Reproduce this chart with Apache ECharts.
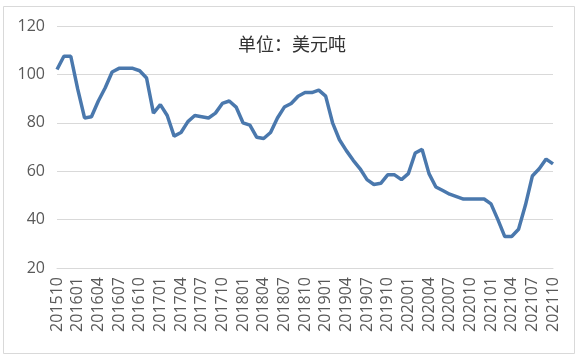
<!DOCTYPE html>
<html>
<head>
<meta charset="utf-8">
<script src="https://cdn.jsdelivr.net/npm/echarts@6/dist/echarts.min.js"></script>
<style>html,body{margin:0;padding:0;background:#fff}#c{width:579px;height:361px}</style>
</head>
<body>
<div id="c"></div>
<script>
const months = [];
for (let y = 2015, m = 10; y < 2021 || (y === 2021 && m <= 10); ) {
  months.push(String(y) + String(m).padStart(2, '0'));
  m++; if (m > 12) { m = 1; y++; }
}
const prices = [
  102, 107.5, 107.5, 94, 82, 82.5, 89, 94.5, 101, 102.5, 102.5, 102.5,
  101.5, 98.5, 84, 87.5, 83, 74.5, 76, 80.5, 83, 82.5, 82, 84,
  88, 89, 86.5, 80, 79, 74, 73.5, 76, 82, 86.5, 88, 91,
  92.5, 92.5, 93.5, 91, 80, 73, 68.5, 64.5, 61, 56.5, 54.5, 55,
  58.5, 58.5, 56.5, 59, 67.5, 69, 59, 53.5, 52, 50.5, 49.5, 48.5,
  48.5, 48.5, 48.5, 46.5, 40, 33, 33, 36, 46, 58, 61, 65,
  63
];
const unitLabel = '单位：美元吨';

const chart = echarts.init(document.getElementById('c'));
chart.setOption({
  animation: false,
  backgroundColor: '#fff',
  graphic: [{
    type: 'rect', shape: { x: 3.5, y: 6.5, width: 571, height: 347 },
    style: { fill: 'none', stroke: '#d9d9d9', lineWidth: 1 }, silent: true
  }],
  title: {
    text: unitLabel, left: 287, top: 30, textAlign: 'center',
    textStyle: { fontFamily: 'Noto Sans CJK SC', fontSize: 18, fontWeight: 'normal', color: '#333' }
  },
  grid: { left: 57, right: 26, top: 26, bottom: 93 },
  xAxis: {
    type: 'category', data: months, boundaryGap: false,
    axisLine: { show: true, lineStyle: { color: '#d9d9d9' } },
    axisTick: { show: false },
    axisLabel: { interval: 2, rotate: 90, margin: 9, fontSize: 16, color: '#595959', fontFamily: 'Open Sans' }
  },
  yAxis: {
    type: 'value', min: 20, max: 120, interval: 20,
    axisLine: { show: false }, axisTick: { show: false },
    axisLabel: { fontSize: 16, color: '#595959', margin: 12, fontFamily: 'Open Sans' },
    splitLine: { lineStyle: { color: '#d9d9d9', width: 1 } }
  },
  series: [{
    type: 'line', data: prices, showSymbol: false, smooth: false,
    lineStyle: { color: '#4a78ad', width: 3.5 }
  }]
});
</script>
</body>
</html>
